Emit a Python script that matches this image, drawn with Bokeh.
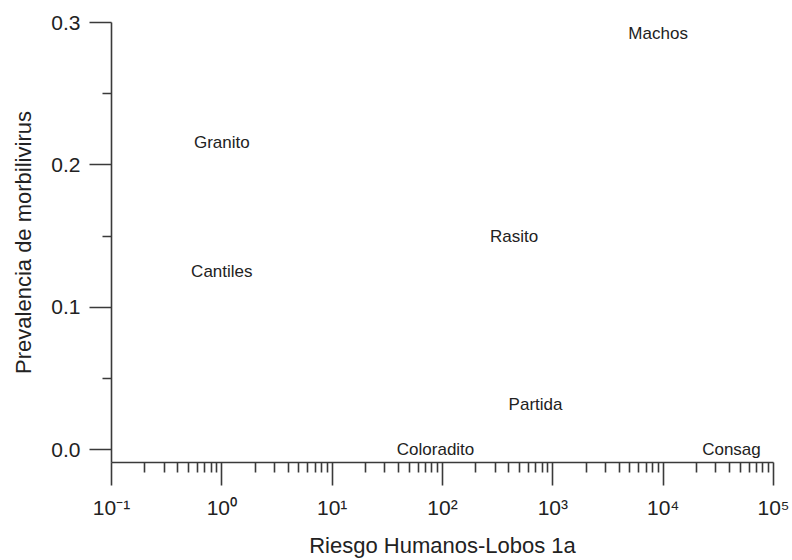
from bokeh.plotting import figure
from bokeh.models import FixedTicker, ColumnDataSource
from bokeh.core.properties import value
from bokeh.embed import file_html
from bokeh.resources import INLINE

# Data
sites = ["Machos", "Granito", "Cantiles", "Rasito", "Partida", "Coloradito", "Consag"]
riesgo = [9000, 1.0, 1.0, 445, 697, 86.5, 41600]
prevalencia = [0.292, 0.216, 0.125, 0.150, 0.032, 0.0, 0.0]

x_major = [0.1, 1, 10, 100, 1000, 10000, 100000]
x_labels = ["10⁻¹", "10⁰", "10¹", "10²", "10³", "10⁴", "10⁵"]
y_major = [0.0, 0.1, 0.2, 0.3]
y_minor = [0.05, 0.15, 0.25]

FONT = "Liberation Sans"
INK = "#222222"
AXIS = "#3a3a3a"

p = figure(width=792, height=560, x_axis_type="log",
           x_range=(0.1, 1e5), y_range=(-0.009, 0.3),
           output_backend="svg", toolbar_location=None,
           min_border_left=111, min_border_right=19,
           min_border_top=22, min_border_bottom=97)
p.outline_line_color = None
p.xgrid.visible = False
p.ygrid.visible = False
p.background_fill_color = "white"

src = ColumnDataSource(dict(x=riesgo, y=prevalencia, t=sites))
p.text(x="x", y="y", text="t", source=src, text_align="center",
       text_baseline="middle", text_font=value(FONT),
       text_font_size="17px", text_color=INK)

x_minor = []
for m in x_major[:-1]:
    for k in range(2, 10):
        x_minor.append(m * k)

p.xaxis.ticker = FixedTicker(ticks=x_major, minor_ticks=x_minor)
p.xaxis.major_label_overrides = {v: s for v, s in zip(x_major, x_labels)}
p.yaxis.ticker = FixedTicker(ticks=y_major, minor_ticks=y_minor)
p.yaxis.major_label_overrides = {v: f"{v:.1f}" for v in y_major}

for ax in (p.xaxis[0], p.yaxis[0]):
    ax.axis_line_color = AXIS
    ax.axis_line_width = 1.6
    ax.major_tick_line_color = AXIS
    ax.major_tick_line_width = 1.6
    ax.minor_tick_line_color = AXIS
    ax.minor_tick_line_width = 1.6
    ax.major_tick_in = 0
    ax.minor_tick_in = 0
    ax.major_label_text_font = FONT
    ax.major_label_text_font_size = "21px"
    ax.major_label_text_color = INK
    ax.axis_label_text_font = FONT
    ax.axis_label_text_font_size = "22px"
    ax.axis_label_text_font_style = "normal"
    ax.axis_label_text_color = INK

p.xaxis.major_tick_out = 23
p.xaxis.minor_tick_out = 10
p.xaxis.major_label_standoff = 10
p.xaxis.axis_label = "Riesgo Humanos-Lobos 1a"
p.xaxis.axis_label_standoff = 11

p.yaxis.major_tick_out = 22
p.yaxis.minor_tick_out = 9
p.yaxis.major_label_standoff = 9
p.yaxis.axis_label = "Prevalencia de morbilivirus"
p.yaxis.axis_label_standoff = 12

open("out.html", "w").write(file_html(p, INLINE))
